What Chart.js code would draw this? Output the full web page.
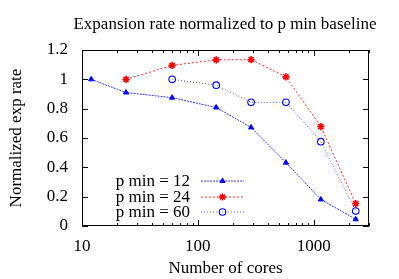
<!DOCTYPE html>
<html>
<head>
<meta charset="utf-8">
<script src="https://cdn.jsdelivr.net/npm/chart.js@4/dist/chart.umd.min.js"></script>
<style>
  html, body { margin: 0; padding: 0; background: #fff; }
  #wrap { width: 399px; height: 279px; position: relative; }
</style>
</head>
<body>
<div id="wrap"><canvas id="c" width="399" height="279"></canvas></div>
<script>
// cores per run
var cores12 = [12, 24, 60, 144, 288, 576, 1152, 2304];
var cores24 = [24, 60, 144, 288, 576, 1152, 2304];
var cores60 = [60, 144, 288, 576, 1152, 2304];

// normalized expansion rate
var rate12 = [1.0, 0.91, 0.875, 0.808, 0.672, 0.432, 0.181, 0.046];
var rate24 = [1.0, 1.095, 1.133, 1.134, 1.017, 0.678, 0.153];
var rate60 = [1.0, 0.96, 0.843, 0.843, 0.575, 0.102];

var seriesNames = ['p min = 12', 'p min = 24', 'p min = 60'];
var yTicks = [0, 0.2, 0.4, 0.6, 0.8, 1.0, 1.2];
var xMajor = [10, 100, 1000];
var xMinor = [20, 30, 40, 50, 60, 70, 80, 90, 200, 300, 400, 500, 600, 700, 800, 900, 2000, 3000];

var FONT = "'Liberation Serif', 'DejaVu Serif', serif";
var FSIZE = 17;

function pts(xs, ys) {
    return xs.map(function (x, i) { return { x: x, y: ys[i] }; });
}

/* ── gnuplot-like frame: box + inward ticks on all four sides ── */
var framePlugin = {
    id: 'frame',
    afterDraw: function (chart) {
        var ctx = chart.ctx, a = chart.chartArea;
        var xs = chart.scales.x, ys = chart.scales.y;
        ctx.save();
        ctx.strokeStyle = '#000';
        ctx.lineWidth = 1;
        ctx.strokeRect(a.left + 0.5, a.top + 0.5, a.right - a.left - 1, a.bottom - a.top - 1);
        ctx.beginPath();
        xMajor.concat(xMinor).forEach(function (v) {
            var len = xMajor.indexOf(v) >= 0 ? 6 : 3;
            var px = Math.round(xs.getPixelForValue(v)) + 0.5;
            ctx.moveTo(px, a.bottom); ctx.lineTo(px, a.bottom - len);
            ctx.moveTo(px, a.top); ctx.lineTo(px, a.top + len);
        });
        yTicks.forEach(function (v) {
            var py = Math.round(ys.getPixelForValue(v)) + 0.5;
            ctx.moveTo(a.left, py); ctx.lineTo(a.left + 6, py);
            ctx.moveTo(a.right, py); ctx.lineTo(a.right - 6, py);
        });
        ctx.stroke();
        ctx.restore();
    }
};

/* ── legend inside the plot, lower left (text right-aligned, sample line) ── */
var keyPlugin = {
    id: 'key',
    afterDraw: function (chart) {
        var ctx = chart.ctx, a = chart.chartArea;
        ctx.save();
        ctx.font = FSIZE + 'px ' + FONT;
        ctx.textAlign = 'right';
        ctx.textBaseline = 'middle';
        chart.data.datasets.forEach(function (ds, i) {
            var y = a.bottom - 45 + i * 15.5;
            var tx = a.left + 108, x0 = a.left + 119, x1 = a.left + 162;
            ctx.fillStyle = '#000';
            ctx.fillText(ds.label, tx, y + 1);
            ctx.strokeStyle = ds.borderColor;
            ctx.lineWidth = ds.borderWidth;
            ctx.setLineDash(ds.borderDash || []);
            ctx.beginPath();
            ctx.moveTo(x0, Math.round(y)); ctx.lineTo(x1, Math.round(y));
            ctx.stroke();
            ctx.setLineDash([]);
            if (Chart.helpers && Chart.helpers.drawPoint) {
                ctx.fillStyle = ds.pointBackgroundColor;
                ctx.strokeStyle = ds.pointBorderColor;
                ctx.lineWidth = ds.pointBorderWidth;
                Chart.helpers.drawPoint(ctx, {
                    pointStyle: ds.pointStyle, radius: ds.pointRadius, rotation: 0, borderWidth: ds.pointBorderWidth
                }, (x0 + x1) / 2, Math.round(y));
            }
        });
        ctx.restore();
    }
};

new Chart(document.getElementById('c'), {
    type: 'line',
    data: {
        datasets: [{
            label: seriesNames[0],
            data: pts(cores12, rate12),
            borderColor: '#3a3aff',
            borderWidth: 1,
            borderDash: [2, 1],
            pointStyle: 'triangle',
            pointRadius: 3,
            pointBackgroundColor: '#0000ff',
            pointBorderColor: '#0000ff',
            pointBorderWidth: 1
        }, {
            label: seriesNames[1],
            data: pts(cores24, rate24),
            borderColor: '#ff2a2a',
            borderWidth: 1,
            borderDash: [2, 2],
            pointStyle: 'star',
            pointRadius: 3.6,
            pointBackgroundColor: '#ff0000',
            pointBorderColor: '#ff0000',
            pointBorderWidth: 1.6
        }, {
            label: seriesNames[2],
            data: pts(cores60, rate60),
            borderColor: '#5a5aff',
            borderWidth: 1,
            borderDash: [1, 2],
            pointStyle: 'circle',
            pointRadius: 3.3,
            pointBackgroundColor: 'rgba(0,0,0,0)',
            pointBorderColor: '#0000ff',
            pointBorderWidth: 1.1
        }]
    },
    options: {
        responsive: false,
        animation: false,
        events: [],
        layout: { padding: { top: 50, right: 30, left: 0, bottom: 0 } },
        plugins: {
            legend: { display: false },
            tooltip: { enabled: false },
            title: { display: false }
        },
        scales: {
            x: {
                type: 'logarithmic',
                min: 10,
                max: 3000,
                afterBuildTicks: function (s) {
                    s.ticks = xMajor.map(function (v) { return { value: v }; });
                },
                afterFit: function (s) { s.height = 53; },
                ticks: {
                    autoSkip: false,
                    maxRotation: 0,
                    color: '#000',
                    padding: 2,
                    font: { family: FONT, size: FSIZE },
                    callback: function (v) { return String(v); }
                },
                grid: { display: false },
                border: { display: false },
                title: {
                    display: true,
                    text: 'Number of cores',
                    color: '#000',
                    font: { family: FONT, size: FSIZE },
                    padding: { top: 8, bottom: 0 }
                }
            },
            y: {
                min: 0,
                max: 1.2,
                afterBuildTicks: function (s) {
                    s.ticks = yTicks.map(function (v) { return { value: v }; });
                },
                afterFit: function (s) { s.width = 82; },
                ticks: {
                    color: '#000',
                    padding: 6,
                    font: { family: FONT, size: FSIZE },
                    callback: function (v) { return String(Math.round(v * 10) / 10); }
                },
                grid: { display: false },
                border: { display: false },
                title: {
                    display: true,
                    text: 'Normalized exp rate',
                    color: '#000',
                    font: { family: FONT, size: FSIZE },
                    padding: { top: 6, bottom: 4 }
                }
            }
        }
    },
    plugins: [framePlugin, keyPlugin, {
        id: 'topTitle',
        afterDraw: function (chart) {
            var ctx = chart.ctx;
            ctx.save();
            ctx.font = FSIZE + 'px ' + FONT;
            ctx.fillStyle = '#000';
            ctx.textAlign = 'center';
            ctx.textBaseline = 'middle';
            ctx.fillText('Expansion rate normalized to p min baseline', 225, 25);
            ctx.restore();
        }
    }]
});
</script>
</body>
</html>
